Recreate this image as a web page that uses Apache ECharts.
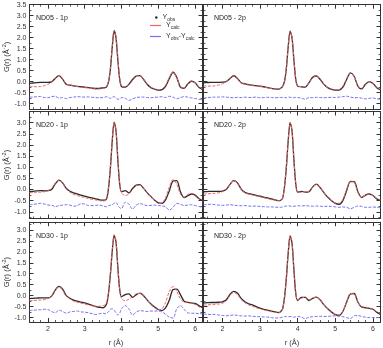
<!DOCTYPE html>
<html><head><meta charset="utf-8">
<style>html,body{margin:0;padding:0;background:#fff}#c{width:383px;height:348px}</style>
<script src="https://cdn.jsdelivr.net/npm/echarts@6/dist/echarts.min.js"></script>
</head><body><div id="c"></div>
<script>
// r grid (Å)
var r = [1.5,1.6,1.7,1.8,1.9,2.0,2.1,2.2,2.3,2.4,2.5,2.6,2.7,2.8,2.9,3.0,3.1,3.2,3.3,3.4,3.5,
  3.55,3.6,3.65,3.7,3.75,3.8,3.85,3.9,3.95,4.0,
  4.1,4.2,4.3,4.4,4.5,4.6,4.7,4.8,4.9,5.0,5.1,5.2,5.3,5.4,5.5,5.6,5.7,5.8,5.9,6.0,6.1,6.2];

var panelNames = ['ND05 - 1p','ND05 - 2p','ND20 - 1p','ND20 - 2p','ND30 - 1p','ND30 - 2p'];
var xTickLabels = [2,3,4,5,6];
var yTickLabels = [-1.0,-0.5,0.0,0.5,1.0,1.5,2.0,2.5,3.0,3.5];

// ND05 - 1p
var nd05_1p_obs = [-0.08,-0.06,-0.04,-0.03,-0.03,-0.03,-0.01,0.15,0.28,0.12,-0.12,-0.16,-0.19,-0.21,-0.23,-0.25,-0.27,-0.29,-0.31,-0.3,-0.28,
  -0.27,-0.22,0.0,0.6,1.6,2.32,2.0,1.0,0.12,-0.22,
  -0.25,-0.12,0.1,0.26,0.28,0.1,-0.13,-0.27,-0.34,-0.38,-0.36,-0.2,0.15,0.43,0.2,-0.25,-0.3,-0.1,0.02,-0.05,-0.25,-0.35];
var nd05_1p_calc = [-0.2,-0.22,-0.23,-0.22,-0.18,-0.12,-0.02,0.16,0.28,0.12,-0.1,-0.16,-0.2,-0.22,-0.25,-0.27,-0.29,-0.31,-0.33,-0.33,-0.3,
  -0.28,-0.2,0.05,0.65,1.62,2.3,2.05,1.08,0.2,-0.18,
  -0.22,-0.15,0.05,0.24,0.27,0.12,-0.1,-0.25,-0.33,-0.36,-0.33,-0.15,0.2,0.44,0.17,-0.22,-0.28,-0.08,0.03,-0.07,-0.24,-0.32];
var nd05_1p_diff = [-0.7,-0.7,-0.68,-0.67,-0.72,-0.73,-0.68,-0.66,-0.75,-0.72,-0.77,-0.72,-0.7,-0.68,-0.69,-0.7,-0.69,-0.71,-0.72,-0.73,-0.72,
  -0.7,-0.68,-0.72,-0.76,-0.7,-0.68,-0.74,-0.8,-0.78,-0.72,
  -0.75,-0.85,-0.78,-0.72,-0.7,-0.7,-0.72,-0.73,-0.71,-0.7,-0.68,-0.72,-0.66,-0.7,-0.78,-0.72,-0.68,-0.7,-0.74,-0.76,-0.8,-0.82];

// ND05 - 2p
var nd05_2p_obs = [-0.05,-0.04,-0.03,-0.03,-0.03,-0.02,0.0,0.14,0.27,0.15,-0.05,-0.1,-0.13,-0.16,-0.18,-0.2,-0.23,-0.27,-0.3,-0.33,-0.34,
  -0.3,-0.22,0.0,0.6,1.6,2.3,2.0,1.0,0.1,-0.2,
  -0.23,-0.25,-0.05,0.2,0.26,0.1,-0.12,-0.27,-0.35,-0.38,-0.38,-0.25,0.1,0.4,0.25,-0.2,-0.33,-0.12,0.0,-0.08,-0.27,-0.37];
var nd05_2p_calc = [-0.18,-0.2,-0.2,-0.19,-0.15,-0.1,0.0,0.14,0.26,0.14,-0.06,-0.12,-0.15,-0.18,-0.2,-0.22,-0.25,-0.28,-0.31,-0.33,-0.33,
  -0.3,-0.2,0.05,0.65,1.62,2.28,2.02,1.05,0.15,-0.18,
  -0.22,-0.22,-0.05,0.18,0.25,0.1,-0.12,-0.26,-0.33,-0.36,-0.35,-0.2,0.13,0.4,0.23,-0.2,-0.3,-0.1,0.0,-0.08,-0.25,-0.35];
var nd05_2p_diff = [-0.75,-0.72,-0.71,-0.7,-0.7,-0.69,-0.7,-0.72,-0.73,-0.71,-0.72,-0.7,-0.72,-0.71,-0.7,-0.73,-0.72,-0.71,-0.72,-0.73,-0.72,
  -0.72,-0.71,-0.72,-0.73,-0.7,-0.71,-0.72,-0.73,-0.71,-0.72,
  -0.75,-0.8,-0.72,-0.73,-0.71,-0.72,-0.73,-0.72,-0.71,-0.72,-0.7,-0.68,-0.66,-0.7,-0.73,-0.72,-0.75,-0.78,-0.76,-0.74,-0.78,-0.8];

// ND20 - 1p
var nd20_1p_obs = [-0.1,-0.08,-0.06,-0.05,-0.06,-0.05,0.0,0.25,0.42,0.3,0.05,-0.08,-0.15,-0.2,-0.25,-0.3,-0.34,-0.38,-0.42,-0.46,-0.48,
  -0.48,-0.4,0.1,1.0,2.2,3.02,2.65,1.35,0.25,-0.1,
  -0.05,-0.15,0.05,0.2,0.22,0.05,-0.15,-0.32,-0.48,-0.6,-0.62,-0.45,-0.05,0.38,0.4,-0.1,-0.36,-0.28,-0.2,-0.25,-0.4,-0.5];
var nd20_1p_calc = [-0.15,-0.13,-0.12,-0.12,-0.1,-0.05,0.05,0.28,0.42,0.28,0.02,-0.12,-0.22,-0.27,-0.32,-0.36,-0.4,-0.44,-0.47,-0.5,-0.52,
  -0.5,-0.38,0.15,1.05,2.25,3.02,2.68,1.4,0.3,-0.15,
  -0.27,-0.2,0.0,0.17,0.2,0.05,-0.15,-0.33,-0.5,-0.62,-0.6,-0.35,0.12,0.45,0.25,-0.2,-0.35,-0.22,-0.18,-0.28,-0.42,-0.52];
var nd20_1p_diff = [-0.68,-0.67,-0.64,-0.62,-0.65,-0.7,-0.7,-0.77,-0.72,-0.7,-0.68,-0.7,-0.75,-0.72,-0.64,-0.65,-0.72,-0.72,-0.71,-0.7,-0.74,
  -0.76,-0.78,-0.72,-0.7,-0.68,-0.62,-0.58,-0.7,-0.82,-0.85,
  -0.57,-0.65,-0.88,-0.7,-0.63,-0.68,-0.72,-0.71,-0.7,-0.72,-0.73,-0.78,-0.92,-0.8,-0.62,-0.66,-0.72,-0.7,-0.68,-0.72,-0.76,-0.8];

// ND20 - 2p
var nd20_2p_obs = [-0.1,-0.09,-0.08,-0.08,-0.08,-0.07,0.0,0.22,0.4,0.3,0.02,-0.13,-0.18,-0.22,-0.26,-0.3,-0.34,-0.38,-0.42,-0.46,-0.5,
  -0.48,-0.4,0.1,1.0,2.2,3.0,2.65,1.35,0.25,-0.12,
  -0.08,-0.12,-0.1,0.12,0.24,0.08,-0.15,-0.35,-0.5,-0.62,-0.66,-0.5,-0.05,0.35,0.35,-0.1,-0.36,-0.25,-0.2,-0.27,-0.42,-0.5];
var nd20_2p_calc = [-0.2,-0.19,-0.18,-0.17,-0.15,-0.1,0.0,0.22,0.4,0.28,0.0,-0.15,-0.21,-0.25,-0.29,-0.33,-0.37,-0.41,-0.45,-0.48,-0.5,
  -0.47,-0.38,0.12,1.02,2.22,3.0,2.66,1.38,0.27,-0.1,
  -0.12,-0.1,-0.08,0.12,0.22,0.08,-0.15,-0.35,-0.5,-0.6,-0.62,-0.45,0.0,0.38,0.33,-0.12,-0.35,-0.24,-0.2,-0.27,-0.4,-0.48];
var nd20_2p_diff = [-0.68,-0.67,-0.66,-0.68,-0.7,-0.71,-0.7,-0.68,-0.7,-0.72,-0.73,-0.72,-0.74,-0.75,-0.74,-0.76,-0.77,-0.78,-0.78,-0.79,-0.8,
  -0.8,-0.78,-0.76,-0.74,-0.73,-0.74,-0.76,-0.75,-0.74,-0.73,
  -0.74,-0.72,-0.74,-0.75,-0.74,-0.75,-0.76,-0.75,-0.76,-0.78,-0.8,-0.78,-0.8,-0.86,-0.8,-0.74,-0.76,-0.8,-0.8,-0.78,-0.8,-0.82];

// ND30 - 1p
var nd30_1p_obs = [-0.13,-0.12,-0.11,-0.1,-0.1,-0.1,-0.02,0.25,0.42,0.3,0.0,-0.12,-0.2,-0.25,-0.29,-0.33,-0.38,-0.44,-0.5,-0.53,-0.55,
  -0.5,-0.35,0.15,1.0,2.05,2.75,2.45,1.3,0.3,-0.05,
  0.05,0.08,-0.08,0.05,0.12,0.0,-0.2,-0.38,-0.52,-0.63,-0.68,-0.55,-0.2,0.28,0.3,0.05,-0.25,-0.3,-0.33,-0.35,-0.45,-0.55];
var nd30_1p_calc = [-0.22,-0.22,-0.21,-0.2,-0.18,-0.14,-0.02,0.25,0.4,0.25,-0.02,-0.15,-0.25,-0.3,-0.34,-0.38,-0.42,-0.46,-0.48,-0.48,-0.46,
  -0.42,-0.3,0.2,1.05,2.1,2.78,2.5,1.35,0.3,-0.12,
  -0.24,-0.15,-0.05,0.08,0.1,0.0,-0.2,-0.4,-0.55,-0.65,-0.6,-0.3,0.2,0.42,0.2,-0.15,-0.3,-0.32,-0.35,-0.4,-0.5,-0.58];
var nd30_1p_diff = [-0.68,-0.66,-0.65,-0.64,-0.62,-0.63,-0.72,-0.78,-0.66,-0.72,-0.8,-0.74,-0.72,-0.7,-0.74,-0.75,-0.78,-0.82,-0.86,-0.82,-0.8,
  -0.82,-0.8,-0.72,-0.62,-0.6,-0.66,-0.78,-0.88,-0.8,-0.6,
  -0.45,-0.6,-0.88,-0.75,-0.68,-0.7,-0.72,-0.7,-0.7,-0.7,-0.74,-0.85,-0.98,-1.02,-0.6,-0.45,-0.62,-0.78,-0.8,-0.8,-0.82,-0.82];

// ND30 - 2p
var nd30_2p_obs = [-0.33,-0.32,-0.31,-0.31,-0.3,-0.28,-0.2,0.05,0.2,0.12,-0.12,-0.28,-0.37,-0.42,-0.5,-0.57,-0.62,-0.66,-0.7,-0.74,-0.77,
  -0.72,-0.6,-0.1,0.8,1.95,2.72,2.4,1.2,0.1,-0.22,
  -0.08,-0.08,-0.22,-0.12,-0.07,-0.2,-0.42,-0.6,-0.75,-0.86,-0.9,-0.72,-0.3,0.08,0.1,-0.3,-0.52,-0.55,-0.58,-0.62,-0.75,-0.85];
var nd30_2p_calc = [-0.43,-0.42,-0.41,-0.4,-0.38,-0.35,-0.25,0.0,0.15,0.05,-0.18,-0.32,-0.42,-0.48,-0.55,-0.6,-0.65,-0.69,-0.73,-0.76,-0.78,
  -0.74,-0.6,-0.08,0.82,1.98,2.72,2.42,1.25,0.12,-0.2,
  -0.12,-0.06,-0.2,-0.1,-0.08,-0.2,-0.42,-0.6,-0.75,-0.85,-0.88,-0.7,-0.28,0.1,0.08,-0.3,-0.5,-0.52,-0.56,-0.62,-0.72,-0.82];
var nd30_2p_diff = [-0.84,-0.85,-0.86,-0.85,-0.88,-0.9,-0.92,-0.9,-0.88,-0.9,-0.92,-0.93,-0.92,-0.94,-0.95,-0.96,-0.97,-0.98,-1.0,-1.02,-1.01,
  -1.0,-0.98,-0.96,-0.95,-0.96,-0.95,-0.96,-0.98,-0.96,-0.95,
  -0.98,-1.05,-0.98,-0.96,-0.95,-0.94,-0.95,-0.94,-0.93,-0.92,-0.94,-0.96,-1.0,-1.04,-0.92,-0.9,-0.95,-0.98,-1.0,-1.0,-1.0,-1.0];

var panels = [
  [nd05_1p_obs, nd05_1p_calc, nd05_1p_diff],
  [nd05_2p_obs, nd05_2p_calc, nd05_2p_diff],
  [nd20_1p_obs, nd20_1p_calc, nd20_1p_diff],
  [nd20_2p_obs, nd20_2p_calc, nd20_2p_diff],
  [nd30_1p_obs, nd30_1p_calc, nd30_1p_diff],
  [nd30_2p_obs, nd30_2p_calc, nd30_2p_diff]
];

// layout
var cols = [{left:25.5, width:177}, {left:203.5, width:177}];
var rows = [
  {top:4.7, height:104.5, min:-1.25, max:3.5, labels:yTickLabels},
  {top:111.5, height:107, min:-1.3, max:3.5, labels:yTickLabels.filter(function(v){return v<3.4;})},
  {top:222.2, height:101.6, min:-1.2, max:3.35, labels:yTickLabels.filter(function(v){return v<3.4;})}
];

function range(a, b, step) { var out=[]; for (var v=a; v<=b+1e-9; v+=step) out.push(Math.round(v*100)/100); return out; }

var AX = '#333';
var grids=[], xAxes=[], yAxes=[], series=[], titles=[];
for (var p=0; p<6; p++) {
  var col = cols[p%2], row = rows[Math.floor(p/2)];
  var isLeft = p%2===0, isBottom = p>=4;
  grids.push({left:col.left, top:row.top, width:col.width, height:row.height, containLabel:false});
  var xMinor = range(1.6, 6.2, 0.2).filter(function(v){return Math.abs(v-Math.round(v))>1e-6;});
  var yMinor = range(Math.ceil(row.min*4)/4, row.max, 0.25).filter(function(v){return Math.abs(v*2-Math.round(v*2))>1e-6;});
  var yMajor = range(-1.0, row.max, 0.5);
  ['bottom','top'].forEach(function(pos){
    xAxes.push({gridIndex:p, type:'value', min:1.5, max:6.2, position:pos,
      axisLine:{show:true, onZero:false, lineStyle:{color:AX, width:1}},
      splitLine:{show:false},
      axisTick:{show:true, inside:true, length:4, customValues:xTickLabels, lineStyle:{color:AX, width:1}},
      axisLabel:{show:(pos==='bottom' && isBottom), customValues:xTickLabels, fontSize:7, color:AX, margin:4, fontFamily:'Liberation Sans'},
      name:(pos==='bottom' && isBottom)?'r (Å)':'', nameLocation:'middle', nameGap:17,
      nameTextStyle:{fontSize:7.5, color:AX, fontFamily:'Liberation Sans'}});
    xAxes.push({gridIndex:p, type:'value', min:1.5, max:6.2, position:pos,
      axisLine:{show:false, onZero:false}, splitLine:{show:false}, axisLabel:{show:false},
      axisTick:{show:true, inside:true, length:2, customValues:xMinor, lineStyle:{color:AX, width:0.8}}});
  });
  ['left','right'].forEach(function(pos){
    yAxes.push({gridIndex:p, type:'value', min:row.min, max:row.max, position:pos,
      axisLine:{show:true, onZero:false, lineStyle:{color:AX, width:1}},
      splitLine:{show:false},
      axisTick:{show:true, inside:true, length:4, customValues:yMajor, lineStyle:{color:AX, width:1}},
      axisLabel:{show:(pos==='left' && isLeft), customValues:row.labels, fontSize:7, color:AX, margin:3, fontFamily:'Liberation Sans',
        formatter:function(v){return (Math.round(v*10)/10).toFixed(1);}},
      name:(pos==='left' && isLeft)?'G(r) (Å{sup|-2})':'', nameLocation:'middle', nameGap:14, nameRotate:90,
      nameTextStyle:{fontSize:7.5, color:AX, fontFamily:'Liberation Sans', rich:{sup:{fontSize:5.5, color:AX, padding:[0,0,5,0], fontFamily:'Liberation Sans'}}}});
    yAxes.push({gridIndex:p, type:'value', min:row.min, max:row.max, position:pos,
      axisLine:{show:false, onZero:false}, splitLine:{show:false}, axisLabel:{show:false},
      axisTick:{show:true, inside:true, length:2, customValues:yMinor, lineStyle:{color:AX, width:0.8}}});
  });
  var d = panels[p];
  var mk = function(arr){ return r.map(function(x,i){return [x, arr[i]];}); };
  series.push({name:'obs', type:'line', xAxisIndex:p*4, yAxisIndex:p*4, data:mk(d[0]), smooth:0.3, showSymbol:false,
    lineStyle:{color:'#2a2a2a', width:1.3}, itemStyle:{color:'#2a2a2a'}, z:3});
  series.push({name:'calc', type:'line', xAxisIndex:p*4, yAxisIndex:p*4, data:mk(d[1]), smooth:0.3, showSymbol:false,
    lineStyle:{color:'#f26464', width:1, type:[3,1.5]}, itemStyle:{color:'#f26464'}, z:4});
  series.push({name:'diff', type:'line', xAxisIndex:p*4, yAxisIndex:p*4, data:mk(d[2]), smooth:0.3, showSymbol:false,
    lineStyle:{color:'#7373f5', width:1, type:[3,1.5]}, itemStyle:{color:'#7373f5'}, z:3});
  titles.push({text:panelNames[p], left:col.left+5.5, top:row.top+5, textStyle:{fontSize:7, fontWeight:'normal', color:'#222', fontFamily:'Liberation Sans'}});
}

var rich = {b:{fontSize:7, color:'#333', fontFamily:'Liberation Sans'}, s:{fontSize:5, color:'#333', padding:[4,0,0,0], fontFamily:'Liberation Sans'}};
var legendFmt = function(n){
  if (n==='obs') return '{b|Y}{s|obs}';
  if (n==='calc') return '{b|Y}{s|calc}';
  return '{b|Y}{s|obs}{b|-Y}{s|calc}';
};

var chart = echarts.init(document.getElementById('c'), null, {renderer:'canvas'});
chart.setOption({
  animation:false,
  backgroundColor:'#fff',
  title: titles,
  legend:[
    {data:[{name:'obs', icon:'circle'}], left:150, top:9, itemWidth:2.5, itemHeight:2.5, itemGap:2, formatter:legendFmt,
     textStyle:{rich:rich}, selectedMode:false},
    {data:[{name:'calc', icon:'rect'},{name:'diff', icon:'rect'}], orient:'vertical', left:145, top:17, itemWidth:11, itemHeight:1.2, itemGap:3,
     formatter:legendFmt, textStyle:{rich:rich}, selectedMode:false}
  ],
  grid:grids, xAxis:xAxes, yAxis:yAxes, series:series
});
</script></body></html>
